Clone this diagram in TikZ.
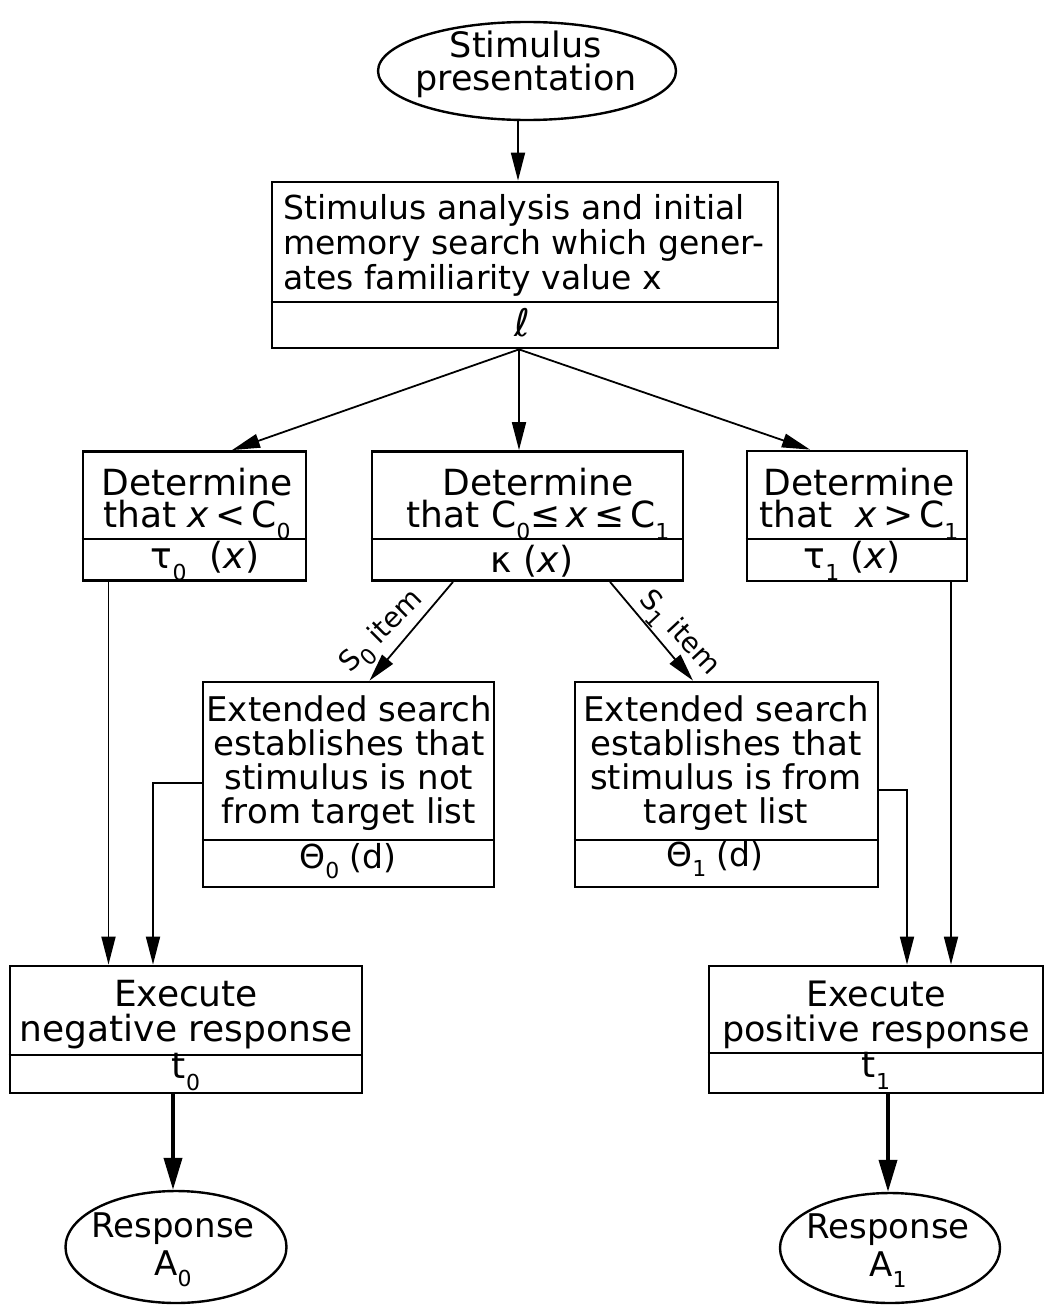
\documentclass[tikz,border=0pt]{standalone}
\usepackage{fontspec}
\setmainfont{DejaVu Sans}
\usetikzlibrary{arrows.meta,shapes.geometric,calc}
\newcommand\dn[1]{\raisebox{-0.32em}{\fontsize{22}{22}\selectfont #1}}
\newcommand\vx{\textit{x}}
\begin{document}
\begin{tikzpicture}[x=1pt,y=-1pt,
  box/.style={draw, line width=2.8pt, inner sep=0pt},
  divider/.style={line width=1.8pt},
  lbl/.style={align=center, inner sep=0pt},
  fs/.style 2 args={font=\fontsize{#1}{#2}\selectfont},
  elbl/.style={font=\fontsize{28}{30}\selectfont, inner sep=0pt},
  arr/.style={line width=1.8pt, -{Triangle[length=28pt,width=14pt]}},
  tarr/.style={line width=3.8pt, -{Triangle[length=32pt,width=18pt]}},
  oval/.style={draw, ellipse, line width=2.4pt, inner sep=0pt},
]
\useasboundingbox[fill=white] (0,0) rectangle (1045,1306);

% top ellipse
\node[oval, minimum width=298pt, minimum height=98pt] (stim) at (527,71) {};
\node[lbl, fs={35}{33}] (stimt) at (526,64) {Stimulus\\presentation};

% analysis box
\node[box, minimum width=506pt, minimum height=166pt] (ana) at (525,265) {};
\draw[divider] (ana.west |- 0,302) -- (ana.east |- 0,302);
\node[lbl, fs={33}{35}, align=left, anchor=west] (anat) at (283,245) {Stimulus analysis and initial\\memory search which gener-\\ates familiarity value x};
\node[lbl, fs={38}{38}] (anap) at (522,323) {ℓ};
\draw[arr] (stim.south -| 518,0) -- (ana.north -| 518,0);

% determine boxes
\node[box, minimum width=223pt, minimum height=129pt] (det0) at (194.5,516) {};
\draw[divider] (det0.west |- 0,539) -- (det0.east |- 0,539);
\node[lbl, fs={36}{32}] (det0t) at (197,504) {Determine\\that \vx\,<\,C\dn{0}};
\node[lbl, fs={36}{36}] (det0p) at (205,561) {τ\dn{0}\ \ (\vx)};

\node[box, minimum width=311pt, minimum height=129pt] (detm) at (527.5,516) {};
\draw[divider] (detm.west |- 0,539) -- (detm.east |- 0,539);
\node[lbl, fs={36}{32}] (detmt) at (538,504) {Determine\\that C\dn{0}≤\,\vx\,≤\,C\dn{1}};
\node[lbl, fs={36}{36}] (detmp) at (532,561) {κ\ (\vx)};

\node[box, minimum width=220pt, minimum height=130pt] (det1) at (857,516) {};
\draw[divider] (det1.west |- 0,539) -- (det1.east |- 0,539);
\node[lbl, fs={36}{32}] (det1t) at (859,504) {Determine\\that\ \ \vx\,>\,C\dn{1}};
\node[lbl, fs={36}{36}] (det1p) at (852,561) {τ\dn{1}\ (\vx)};

% fork arrows
\coordinate (fork) at ([xshift=-6pt]ana.south);
\draw[arr] (fork) -- ([xshift=37.5pt]det0.north);
\draw[arr] (fork) -- (fork |- detm.north);
\draw[arr] (fork) -- ([xshift=-47pt]det1.north);

% extended search boxes
\node[box, minimum width=291pt, minimum height=205pt] (ext0) at (348.5,784.5) {};
\draw[divider] (ext0.west |- 0,840) -- (ext0.east |- 0,840);
\node[lbl, fs={34}{34}] (ext0t) at (349,763) {Extended search\\establishes that\\stimulus is not\\from target list};
\node[lbl, fs={33}{33}] (ext0p) at (348,861) {Θ\dn{0} (d)};

\node[box, minimum width=303pt, minimum height=205pt] (ext1) at (726.5,784.5) {};
\draw[divider] (ext1.west |- 0,840) -- (ext1.east |- 0,840);
\node[lbl, fs={34}{34}] (ext1t) at (726,763) {Extended search\\establishes that\\stimulus is from\\target list};
\node[lbl, fs={33}{33}] (ext1p) at (715,859) {Θ\dn{1} (d)};

% item arrows
\draw[arr] ([xshift=-74.5pt]detm.south) -- ([xshift=21pt]ext0.north);
\draw[arr] ([xshift=82.5pt]detm.south) -- ([xshift=-33.5pt]ext1.north);
\node[elbl, rotate=45] (s0) at (383,633) {S\dn{0} item};
\node[elbl, rotate=-47] (s1) at (678,634) {S\dn{1} item};

% execute boxes
\node[box, minimum width=352pt, minimum height=127pt] (neg) at (186,1029.5) {};
\draw[divider] (neg.west |- 0,1055) -- (neg.east |- 0,1055);
\node[lbl, fs={36}{35}] (negt) at (186,1015) {Execute\\negative response};
\node[lbl, fs={36}{36}] (negp) at (186,1072) {t\dn{0}};

\node[box, minimum width=334pt, minimum height=127pt] (pos) at (876,1029.5) {};
\draw[divider] (pos.west |- 0,1053) -- (pos.east |- 0,1053);
\node[lbl, fs={35}{35}] (post) at (876,1015) {Execute\\positive response};
\node[lbl, fs={36}{36}] (posp) at (876,1071) {t\dn{1}};

% connectors to execute boxes
\draw[arr] ([xshift=-86pt]det0.south) -- ([xshift=-77.5pt]neg.north);
\draw[arr] ([yshift=1.5pt]ext0.west) -| ([xshift=-33pt]neg.north);
\draw[arr] ([yshift=-5.5pt]ext1.east) -| ([xshift=31pt]pos.north);
\draw[arr] ([xshift=94pt]det1.south) -- ([xshift=75pt]pos.north);

% responses
\node[oval, minimum width=221pt, minimum height=112pt] (r0) at (176,1247) {};
\node[lbl, fs={34}{38}] (r0t) at (173,1250) {Response\\A\dn{0}};
\node[oval, minimum width=220pt, minimum height=110pt] (r1) at (890,1248) {};
\node[lbl, fs={34}{38}] (r1t) at (888,1251) {Response\\A\dn{1}};

\coordinate (p0) at ([xshift=-13pt]neg.south);
\draw[tarr] (p0) -- (p0 |- r0.north);
\coordinate (p1) at ([xshift=12pt]pos.south);
\draw[tarr] (p1) -- (p1 |- r1.north);
\end{tikzpicture}
\end{document}
